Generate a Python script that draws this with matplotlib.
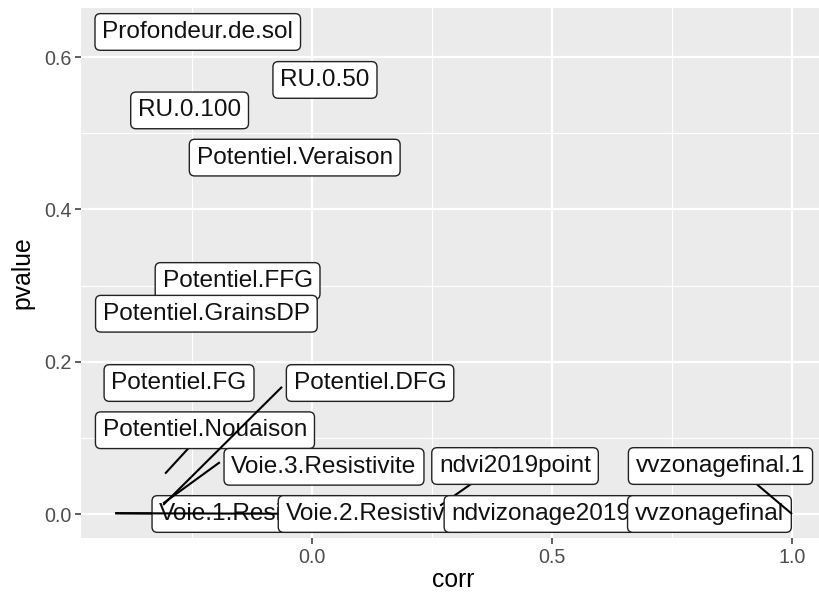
import matplotlib
matplotlib.use("Agg")
import matplotlib.pyplot as plt
from matplotlib.ticker import MultipleLocator

# variables, in drawing order (later ones are drawn on top)
names = ["Profondeur.de.sol", "RU.0.50", "RU.0.100", "Potentiel.Veraison",
         "Potentiel.FFG", "Potentiel.GrainsDP", "Potentiel.FG",
         "Voie.1.Resistivite", "Voie.2.Resistivite", "Potentiel.Nouaison",
         "Potentiel.DFG", "Voie.3.Resistivite", "ndvi2019point",
         "ndvizonage2019", "vvzonagefinal", "vvzonagefinal.1"]
corr = [-0.238, 0.027, -0.255, -0.036, -0.155, -0.220, -0.277,
        -0.410, -0.410, -0.306, -0.310, -0.310, 0.267,
        0.477, 1.000, 1.000]
pvalue = [0.633, 0.570, 0.530, 0.468, 0.306, 0.263, 0.172,
          0.001, 0.001, 0.053, 0.012, 0.014, 0.011,
          0.000, 0.000, 0.000]

# repelled label centres (layout, data units)
label_x = [-0.238, 0.027, -0.255, -0.036, -0.155, -0.220, -0.277,
           -0.125, 0.138, -0.223, 0.121, 0.025, 0.423,
           0.477, 0.828, 0.851]
label_y = [0.633, 0.570, 0.530, 0.468, 0.306, 0.263, 0.172,
           0.000, 0.000, 0.110, 0.172, 0.062, 0.063,
           0.000, 0.000, 0.063]
# where a segment meets its label box (None -> towards label centre)
seg_to = {"Potentiel.DFG": (-0.0625, 0.167),
          "Voie.3.Resistivite": (-0.192, 0.068),
          "ndvi2019point": (0.335, 0.041),
          "vvzonagefinal.1": (0.923, 0.041)}

W, H = 819, 595
fig = plt.figure(figsize=(W / 100, H / 100), dpi=100)

# ggplot style limits: data range expanded 5%
xr = max(corr) - min(corr)
yr = max(pvalue) - min(pvalue)
xlo, xhi = min(corr) - 0.05 * xr, max(corr) + 0.05 * xr
ylo, yhi = min(pvalue) - 0.05 * yr, max(pvalue) + 0.05 * yr

# pixel scale of the reference panel
x0px, xpx = 312, 480.0
y0px, ypx = 514, 761.5
left = x0px + xlo * xpx
right = x0px + xhi * xpx
top = y0px - yhi * ypx
bottom = y0px - ylo * ypx
ax = fig.add_axes([left / W, 1 - bottom / H, (right - left) / W, (bottom - top) / H])
ax.set_xlim(xlo, xhi)
ax.set_ylim(ylo, yhi)

ax.set_facecolor("#EBEBEB")
for s in ax.spines.values():
    s.set_visible(False)
ax.xaxis.set_major_locator(MultipleLocator(0.5))
ax.xaxis.set_minor_locator(MultipleLocator(0.25))
ax.yaxis.set_major_locator(MultipleLocator(0.2))
ax.yaxis.set_minor_locator(MultipleLocator(0.1))
ax.grid(which="major", color="white", linewidth=1.6)
ax.grid(which="minor", color="white", linewidth=0.8)
ax.set_axisbelow(True)
ax.tick_params(which="major", length=4.4, width=1.1, color="#333333",
               labelcolor="#4D4D4D", labelsize=14.2, pad=2.6)
ax.tick_params(which="minor", length=0)
ax.xaxis.set_major_formatter(plt.FuncFormatter(lambda v, p: "%.1f" % v))
ax.yaxis.set_major_formatter(plt.FuncFormatter(lambda v, p: "%.1f" % v))
for lab in ax.get_xticklabels() + ax.get_yticklabels():
    lab.set_family("Liberation Sans")

ax.set_xlabel("corr", fontsize=17.8, family="Liberation Sans", labelpad=1)
ax.set_ylabel("pvalue", fontsize=17.8, family="Liberation Sans", labelpad=7)

for i, name in enumerate(names):
    z = 3 + 2 * i
    px, py = corr[i], pvalue[i]
    lx, ly = label_x[i], label_y[i]
    ex, ey = seg_to.get(name, (lx, ly))
    if abs(px - lx) > 1e-9 or abs(py - ly) > 1e-9:
        ax.plot([px, ex], [py, ey], color="black", linewidth=1.5,
                solid_capstyle="butt", zorder=z, clip_on=False)
    ax.text(lx, ly, name, ha="center", va="center", fontsize=17.6,
            family="Liberation Sans", color="#111111", zorder=z + 1,
            bbox=dict(boxstyle="round,pad=0.3,rounding_size=0.22",
                      facecolor="white", edgecolor="#222222", linewidth=1.0))

fig.savefig("out.png", dpi=100)
